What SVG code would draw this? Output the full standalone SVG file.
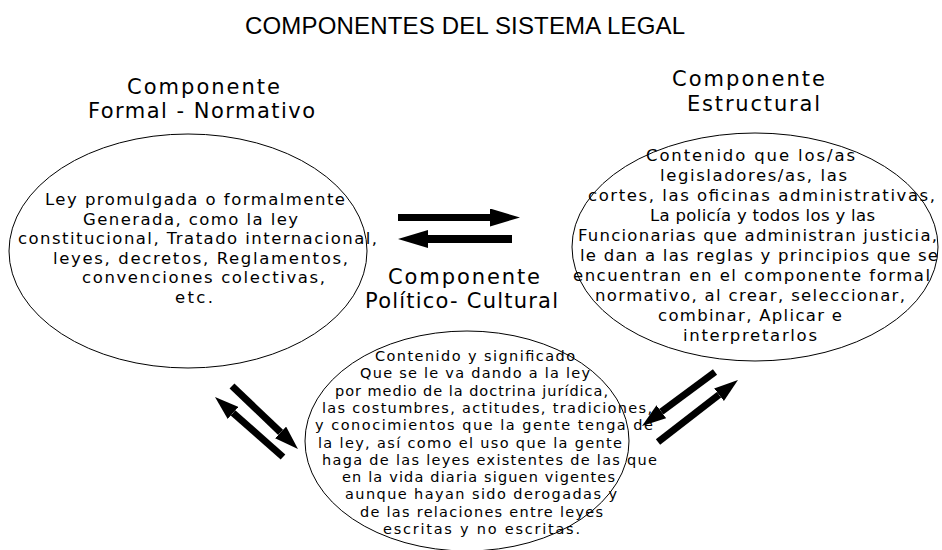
<svg xmlns="http://www.w3.org/2000/svg" width="942" height="550" viewBox="0 0 942 550">
<defs>
<style>
text{font-family:"DejaVu Sans","Liberation Sans",Arial,sans-serif;fill:#000}
.title{font-family:"Liberation Sans",Arial,sans-serif;font-size:24px}
.hdr{font-size:21px}
.body{font-size:16.5px}
.small{font-size:14.5px}
.node{fill:none;stroke:#000;stroke-width:1}
.arr{stroke:#000;fill:none}
</style>
<marker id="headH" markerUnits="userSpaceOnUse" markerWidth="30" markerHeight="18" refX="0" refY="9" orient="auto">
<path d="M0,0 L30,9 L0,18 Z" fill="#000"/>
</marker>
<marker id="headD" markerUnits="userSpaceOnUse" markerWidth="24" markerHeight="16" refX="0" refY="8" orient="auto">
<path d="M0,0 L24,8 L0,16 Z" fill="#000"/>
</marker>
</defs>
<rect width="942" height="550" fill="#fff"/>
<text class="title" x="245" y="34" textLength="440">COMPONENTES DEL SISTEMA LEGAL</text>

<g id="formal">
<ellipse class="node" cx="188" cy="251" rx="179" ry="117"/>
<text class="hdr" x="127" y="94" textLength="153">Componente</text>
<text class="hdr" x="88" y="118" textLength="227">Formal - Normativo</text>
<text class="body" x="45" y="205" textLength="300">Ley promulgada o formalmente</text>
<text class="body" x="83" y="224.5" textLength="215">Generada, como la ley</text>
<text class="body" x="18" y="244" textLength="359">constitucional, Tratado internacional,</text>
<text class="body" x="53" y="263.5" textLength="295">leyes, decretos, Reglamentos,</text>
<text class="body" x="82" y="283" textLength="243">convenciones colectivas,</text>
<text class="body" x="175" y="302.5" textLength="38">etc.</text>
</g>

<g id="estructural">
<ellipse class="node" cx="755" cy="247" rx="183" ry="114"/>
<text class="hdr" x="672" y="86" textLength="153">Componente</text>
<text class="hdr" x="687" y="111" textLength="133">Estructural</text>
<text class="body" x="646" y="161" textLength="209">Contenido que los/as</text>
<text class="body" x="660" y="181" textLength="187">legisladores/as, las</text>
<text class="body" x="588" y="201" textLength="347">cortes, las oficinas administrativas,</text>
<text class="body" x="650" y="221" textLength="225">La policía y todos los y las</text>
<text class="body" x="578" y="241" textLength="359">Funcionarias que administran justicia,</text>
<text class="body" x="580" y="260.5" textLength="358">le dan a las reglas y principios que se</text>
<text class="body" x="573" y="280.5" textLength="357">encuentran en el componente formal</text>
<text class="body" x="595" y="300.5" textLength="310">normativo, al crear, seleccionar,</text>
<text class="body" x="658" y="320.5" textLength="184">combinar, Aplicar e</text>
<text class="body" x="683" y="340.5" textLength="134">interpretarlos</text>
</g>

<g id="politico">
<text class="hdr" x="388" y="284" textLength="152">Componente</text>
<text class="hdr" x="365" y="308" textLength="193">Político- Cultural</text>
<ellipse class="node" cx="467" cy="441" rx="162" ry="110"/>
<text class="small" x="375" y="361" textLength="200">Contenido y significado</text>
<text class="small" x="360" y="378.3" textLength="230">Que se le va dando a la ley</text>
<text class="small" x="335" y="395.6" textLength="273">por medio  de la doctrina jurídica,</text>
<text class="small" x="322" y="412.9" textLength="330">las costumbres, actitudes, tradiciones,</text>
<text class="small" x="315" y="430.2" textLength="338">y conocimientos que la gente tenga de</text>
<text class="small" x="318" y="447.5" textLength="304">la ley, así como el uso que la gente</text>
<text class="small" x="322" y="464.8" textLength="335">haga de las leyes existentes de las que</text>
<text class="small" x="342" y="482.1" textLength="273">en la vida diaria siguen vigentes</text>
<text class="small" x="345" y="499.4" textLength="272">aunque hayan sido derogadas y</text>
<text class="small" x="360" y="516.7" textLength="243">de las relaciones entre leyes</text>
<text class="small" x="383" y="534" textLength="197">escritas  y no escritas.</text>
</g>

<g id="connectors">
<line class="arr" x1="398" y1="217.5" x2="490" y2="217.5" stroke-width="7" marker-end="url(#headH)"/>
<line class="arr" x1="512" y1="239" x2="428" y2="239" stroke-width="8" marker-end="url(#headH)"/>
<line class="arr" x1="232" y1="386" x2="280.6" y2="432.4" stroke-width="7" marker-end="url(#headD)"/>
<line class="arr" x1="283" y1="457" x2="233" y2="412.9" stroke-width="7" marker-end="url(#headD)"/>
<line class="arr" x1="715" y1="372" x2="661.3" y2="411.7" stroke-width="7" marker-end="url(#headD)"/>
<line class="arr" x1="658" y1="442" x2="719" y2="394.7" stroke-width="7" marker-end="url(#headD)"/>
</g>
</svg>
